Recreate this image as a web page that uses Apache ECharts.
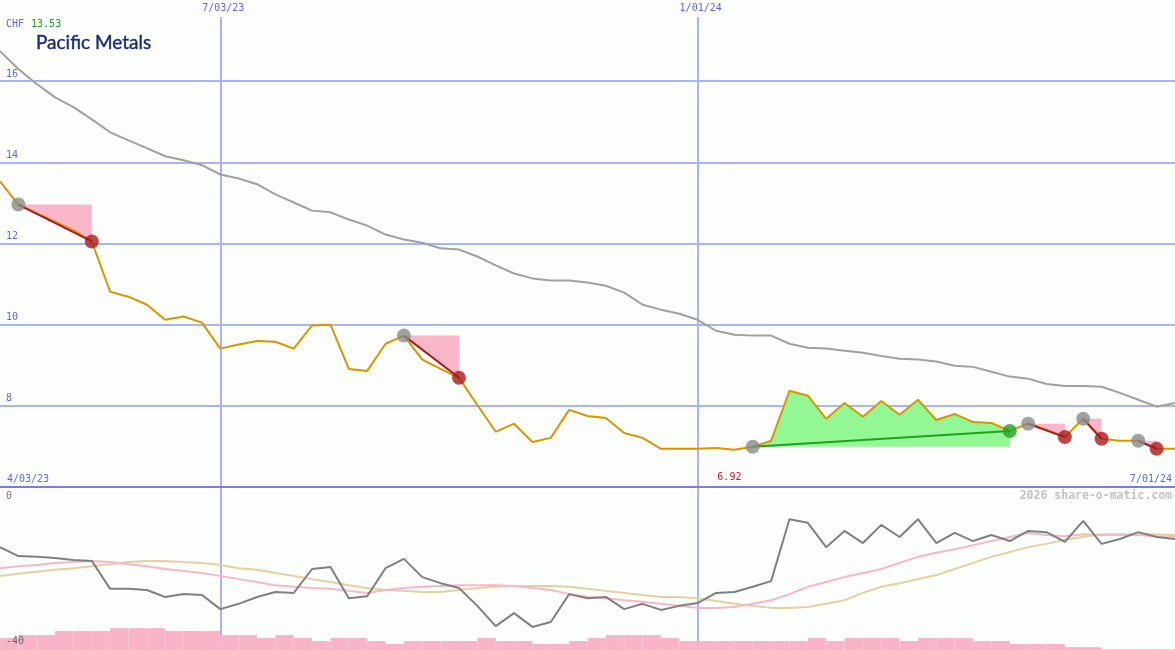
<!DOCTYPE html>
<html><head><meta charset="utf-8">
<script src="https://cdn.jsdelivr.net/npm/echarts@6/dist/echarts.min.js"></script>
<style>html,body{margin:0;padding:0;background:#fcfefc;}#c{width:1175px;height:650px;}</style>
</head><body><div id="c"></div>
<script>
const dates = ["4/03/23","4/17/23","4/24/23","5/01/23","5/08/23","5/15/23","5/22/23","5/29/23","6/05/23","6/12/23","6/19/23","6/26/23","7/03/23","7/10/23","7/17/23","7/24/23","7/31/23","8/07/23","8/14/23","8/21/23","8/28/23","9/04/23","9/11/23","9/18/23","9/25/23","10/02/23","10/09/23","10/16/23","10/23/23","10/30/23","11/06/23","11/13/23","11/20/23","11/27/23","12/04/23","12/11/23","12/18/23","12/25/23","1/01/24","1/08/24","1/15/24","1/22/24","1/29/24","2/05/24","2/12/24","2/19/24","2/26/24","3/04/24","3/11/24","3/18/24","3/25/24","4/01/24","4/08/24","4/15/24","4/22/24","4/29/24","5/06/24","5/13/24","5/20/24","5/27/24","6/03/24","6/10/24","6/17/24","6/24/24","7/01/24"];
const price = [13.53,12.96,12.74,12.54,12.33,12.05,10.81,10.69,10.49,10.12,10.20,10.05,9.41,9.51,9.60,9.58,9.41,9.98,10.00,8.91,8.86,9.53,9.73,9.14,8.91,8.69,8.02,7.36,7.56,7.11,7.21,7.90,7.75,7.70,7.33,7.21,6.94,6.94,6.94,6.96,6.92,6.99,7.14,8.37,8.25,7.68,8.07,7.73,8.12,7.78,8.15,7.65,7.80,7.60,7.58,7.38,7.56,7.41,7.23,7.68,7.19,7.14,7.14,6.94,6.94];
const longAvg = [16.74,16.30,15.93,15.60,15.36,15.06,14.74,14.54,14.35,14.15,14.05,13.93,13.70,13.60,13.46,13.21,13.01,12.81,12.77,12.59,12.44,12.22,12.10,12.02,11.88,11.85,11.68,11.46,11.26,11.14,11.09,11.09,11.04,10.96,10.79,10.49,10.37,10.27,10.12,9.85,9.75,9.73,9.73,9.53,9.43,9.41,9.36,9.31,9.23,9.16,9.14,9.09,8.99,8.96,8.84,8.72,8.67,8.54,8.49,8.49,8.47,8.32,8.15,7.98,8.07];
const osc = [-14.6,-16.8,-17.0,-17.3,-17.8,-18.0,-24.9,-24.9,-25.2,-26.9,-26.2,-26.4,-29.9,-28.6,-26.9,-25.7,-25.9,-20.0,-19.5,-27.2,-26.7,-19.8,-17.5,-22.0,-23.5,-24.7,-29.1,-34.1,-30.9,-34.3,-33.1,-26.2,-27.2,-26.9,-29.9,-28.6,-30.1,-29.1,-28.4,-25.9,-25.7,-24.4,-23.0,-7.7,-8.6,-14.6,-10.6,-13.6,-9.1,-12.1,-7.7,-13.6,-11.1,-13.1,-11.6,-13.1,-10.6,-10.9,-13.3,-8.1,-13.8,-12.6,-10.9,-12.1,-12.6];
const oscFast = [-19.8,-19.3,-19.0,-18.5,-18.3,-18.0,-18.3,-18.8,-19.3,-20.0,-20.5,-21.0,-21.7,-22.5,-23.2,-24.0,-24.4,-24.7,-24.9,-25.4,-25.9,-25.2,-24.7,-24.4,-24.2,-24.0,-24.0,-24.0,-24.2,-24.7,-25.2,-26.2,-26.9,-27.2,-27.7,-28.1,-28.6,-29.1,-29.6,-29.6,-29.4,-28.6,-27.7,-26.2,-24.4,-23.2,-22.0,-21.0,-20.0,-18.5,-17.0,-16.0,-15.1,-14.1,-13.1,-12.1,-11.1,-11.6,-11.9,-11.4,-11.6,-11.6,-11.6,-11.9,-11.9];
const oscSlow = [-21.7,-21.2,-20.7,-20.2,-19.8,-19.3,-18.8,-18.3,-18.0,-18.0,-18.3,-18.5,-19.0,-19.8,-20.2,-21.0,-21.7,-22.5,-23.2,-24.0,-24.7,-25.2,-25.4,-25.7,-25.7,-25.2,-24.7,-24.4,-24.2,-24.2,-24.2,-24.4,-24.9,-25.4,-25.9,-26.4,-26.9,-26.9,-27.2,-27.9,-28.6,-29.1,-29.6,-29.6,-29.4,-28.6,-27.7,-25.9,-24.4,-23.5,-22.5,-21.5,-20.0,-18.5,-17.0,-15.8,-14.6,-13.8,-12.8,-12.1,-11.4,-11.4,-11.4,-11.4,-11.6];
const volume = [3.0,3.7,3.7,4.7,4.7,4.7,5.4,5.4,5.4,4.7,4.7,4.7,3.7,3.7,3.0,3.7,3.0,2.2,3.0,3.0,2.2,1.5,2.2,2.2,2.2,2.2,3.0,2.2,2.2,1.5,1.5,2.2,3.0,3.7,3.7,3.7,3.0,2.2,2.2,2.2,2.2,2.2,2.2,2.2,3.0,2.2,3.0,3.0,3.0,2.2,3.0,3.0,3.0,2.2,2.2,1.5,1.5,1.5,0.7,0.7,0,0,0,0];
const sellTrades = [[1,5],[22,25],[56,58],[59,60],[62,63]];
const buyTrades = [[41,55]];
const gridDateIdx = [12,38];
const firstDateIdx = 0, lastDateIdx = 64;
const currency = "CHF";
const stockName = "Pacific Metals";
const watermark = "2026 share-o-matic.com";

const BG = '#fcfefc', GRID = '#a8b4f4', BLUE = '#5a68e6', MONO = 'DejaVu Sans Mono';
const chart = echarts.init(document.getElementById('c'), null, {renderer:'canvas'});

const trades = sellTrades.map(t => [t[0], t[1], price[t[0]], 0]).concat(buyTrades.map(t => [t[0], t[1], price[t[0]], 1]));

function fillItem(params, api) {
  const e = api.value(0), x = api.value(1), kind = api.value(3);
  const p0 = api.coord([e, price[e]]);
  const p1 = api.coord([x, price[x]]);
  let pts;
  if (kind === 0) {
    pts = [p0, [p1[0], p0[1]], p1];
  } else {
    pts = [];
    for (let i = e; i <= x; i++) pts.push(api.coord([i, price[i]]));
    pts.push([p1[0], p0[1]]);
  }
  return {type:'polygon', shape:{points:pts}, style:{fill: kind === 0 ? '#fbb6c9' : '#93f893'}};
}
function lineItem(params, api) {
  const e = api.value(0), x = api.value(1), kind = api.value(3);
  const p0 = api.coord([e, price[e]]);
  const p1 = api.coord([x, price[x]]);
  return {type:'line', shape:{x1:p0[0], y1:p0[1], x2:p1[0], y2:p1[1]}, style:{stroke: kind === 0 ? '#a81c1c' : '#22a022', lineWidth:2}};
}

const maxPrice = Math.max(...price).toFixed(2);

const option = {
  backgroundColor: BG,
  animation: false,
  title: [
    {text:'{c|' + currency + '} {v|' + maxPrice + '}', left:6, top:15, padding:0,
     textStyle:{fontWeight:'normal', rich:{c:{fontFamily:MONO, fontSize:10, fontWeight:'normal', color:BLUE}, v:{fontFamily:MONO, fontSize:10, fontWeight:'normal', color:'#1e9a1e', padding:[0,0,0,2]}}}},
    {text: stockName, left:36, top:33, padding:0, textStyle:{fontFamily:'Lato', fontSize:19, fontWeight:'normal', color:'#1c2d78', textBorderColor:'#1c2d78', textBorderWidth:0.4}}
  ],
  graphic: [
    {type:'text', right:3, top:490, style:{text:watermark, font:'bold 11.5px "DejaVu Sans Mono"', fill:'#c2c2c2'}}
  ],
  grid: [
    {left:0, right:0, top:0, height:487},
    {left:0, right:0, top:488, height:162}
  ],
  xAxis: [
    {type:'category', gridIndex:0, data:dates, boundaryGap:false, position:'bottom',
     axisLine:{show:true, onZero:false, lineStyle:{color:'#7080e8', width:2}}, axisTick:{show:false}, splitLine:{show:false},
     axisLabel:{inside:true, margin:3, interval:(i) => i === firstDateIdx, align:'left', verticalAlign:'bottom', padding:[0,0,0,7], color:BLUE, fontFamily:MONO, fontSize:10}},
    {type:'category', gridIndex:0, data:dates, boundaryGap:false, position:'bottom',
     axisLine:{show:false}, axisTick:{show:false}, splitLine:{show:false},
     axisLabel:{inside:true, margin:3, interval:(i) => i === lastDateIdx, align:'right', verticalAlign:'bottom', padding:[0,3,0,0], color:BLUE, fontFamily:MONO, fontSize:10}},
    {type:'category', gridIndex:0, data:dates, boundaryGap:false, position:'top',
     axisLine:{show:false}, axisTick:{show:false},
     splitLine:{show:true, interval:(i) => gridDateIdx.includes(i), lineStyle:{color:GRID, width:2}},
     axisLabel:{inside:true, margin:0, interval:(i) => gridDateIdx.includes(i), verticalAlign:'top', lineHeight:11, padding:[3,2,3,8], backgroundColor:BG, color:BLUE, fontFamily:MONO, fontSize:10}},
    {type:'category', gridIndex:1, data:dates, boundaryGap:false,
     axisLine:{show:false}, axisTick:{show:false}, axisLabel:{show:false},
     splitLine:{show:true, interval:(i) => gridDateIdx.includes(i), lineStyle:{color:GRID, width:2}}},
    {type:'category', gridIndex:1, data:dates.slice(0, 64), boundaryGap:true, show:false}
  ],
  yAxis: [
    {type:'value', gridIndex:0, min:6, max:18, interval:2, axisLine:{show:false}, axisTick:{show:false},
     splitLine:{show:true, lineStyle:{color:['transparent', GRID, GRID, GRID, GRID, GRID, 'transparent'], width:2}},
     axisLabel:{inside:true, margin:6, verticalAlign:'bottom', padding:[0,0,2,0], color:BLUE, fontFamily:MONO, fontSize:10,
       formatter:(v) => (v === 6 || v === 18) ? '' : String(v)}},
    {type:'value', gridIndex:1, min:-40, max:0, interval:40, z:10, axisLine:{show:false}, axisTick:{show:false}, splitLine:{show:false},
     axisLabel:{inside:true, margin:6, color:'#777', fontFamily:MONO, fontSize:10,
       formatter:(v) => v === 0 ? '{t|0}' : '{b|' + v + '}',
       rich:{t:{padding:[16,0,0,0], color:'#777', fontFamily:MONO, fontSize:10}, b:{padding:[0,0,18,0], color:'#666', fontFamily:MONO, fontSize:10}}}},
    {type:'value', gridIndex:1, min:0, max:40, show:false}
  ],
  series: [
    {type:'custom', name:'fills', xAxisIndex:0, yAxisIndex:0, z:1, renderItem:fillItem, data:trades, encode:{x:0, y:2}, silent:true},
    {type:'line', name:'avg', xAxisIndex:0, yAxisIndex:0, z:2, data:longAvg, symbol:'none', lineStyle:{color:'#a0a0a0', width:2}, silent:true},
    {type:'line', name:'price', xAxisIndex:0, yAxisIndex:0, z:3, data:price, symbol:'none', lineStyle:{color:'#d69600', width:2}, silent:true,
     markPoint:{symbol:'circle', symbolSize:0, data:[{type:'min', name:'min'}],
       label:{show:true, position:'inside', offset:[-5,28], formatter:(p) => Number(p.value).toFixed(2), color:'#cc2020', fontFamily:MONO, fontSize:10}}},
    {type:'custom', name:'signals', xAxisIndex:0, yAxisIndex:0, z:4, renderItem:lineItem, data:trades, encode:{x:0, y:2}, silent:true},
    {type:'scatter', name:'entries', xAxisIndex:0, yAxisIndex:0, z:5, symbolSize:14, itemStyle:{color:'#8a8a8a'},
     data: sellTrades.concat(buyTrades).map(t => [t[0], price[t[0]]])},
    {type:'scatter', name:'sellExit', xAxisIndex:0, yAxisIndex:0, z:5, symbolSize:14, itemStyle:{color:'#a81c1c'},
     data: sellTrades.map(t => [t[1], price[t[1]]])},
    {type:'scatter', name:'buyExit', xAxisIndex:0, yAxisIndex:0, z:5, symbolSize:14, itemStyle:{color:'#22a022'},
     data: buyTrades.map(t => [t[1], price[t[1]]])},
    {type:'line', name:'oscSlow', xAxisIndex:3, yAxisIndex:1, z:2, data:oscSlow, symbol:'none', lineStyle:{color:'#e6cfa0', width:2}, silent:true},
    {type:'line', name:'oscFast', xAxisIndex:3, yAxisIndex:1, z:2, data:oscFast, symbol:'none', lineStyle:{color:'#f8b6ca', width:2}, silent:true},
    {type:'line', name:'osc', xAxisIndex:3, yAxisIndex:1, z:3, data:osc, symbol:'none', lineStyle:{color:'#808080', width:2}, silent:true},
    {type:'bar', name:'volume', xAxisIndex:4, yAxisIndex:2, z:4, data:volume, barCategoryGap:0, barGap:0, itemStyle:{color:'#f9b4c8', borderColor:'#f9b4c8', borderWidth:1}, silent:true}
  ]
};
chart.setOption(option);
</script>
</body></html>
